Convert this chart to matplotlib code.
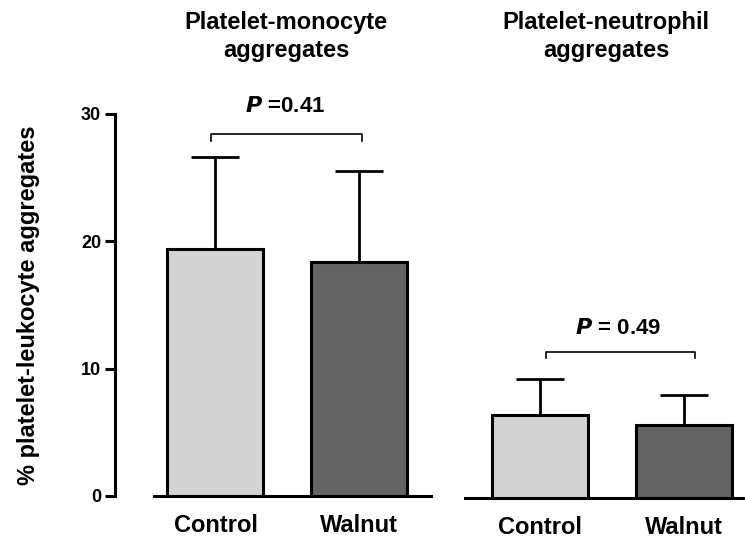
import matplotlib
matplotlib.use("Agg")
from matplotlib import pyplot as plt

plt.rcParams['font.family'] = ['Liberation Sans', 'DejaVu Sans']
plt.rcParams['font.weight'] = 'bold'

groups = ["Control", "Walnut"]
monocyte_mean = [19.4, 18.35]
monocyte_sd = [7.2, 7.15]
neutrophil_mean = [6.5, 5.7]
neutrophil_sd = [2.85, 2.35]
bar_colors = ["#d3d3d3", "#636363"]
titles = ["Platelet-monocyte\naggregates", "Platelet-neutrophil\naggregates"]
p_labels = [r"$\bfit{P}$ =0.41", r"$\bfit{P}$ = 0.49"]
y_ticks = [0, 10, 20, 30]

W, H = 745, 543
fig = plt.figure(figsize=(W / 100, H / 100), dpi=100)


def px_axes(x0, x1, y0, y1):
    # pixel box (top-left origin) -> figure fraction
    return fig.add_axes([x0 / W, 1 - y1 / H, (x1 - x0) / W, (y1 - y0) / H])


ax1 = px_axes(115, 431, 114, 496)
ax2 = px_axes(465, 745, 116, 498)

lw = 2.2
for ax, means, sds, xl, bracket, ptxt in [
    (ax1, monocyte_mean, monocyte_sd, (-0.698, 1.497), (-0.03, 1.02, 28.4, 30.6, 0.48), p_labels[0]),
    (ax2, neutrophil_mean, neutrophil_sd, (-0.521, 1.424), (0.04, 1.08, 11.5, 13.3, 0.54), p_labels[1]),
]:
    x = range(len(groups))
    ax.bar(x, means, width=0.667, color=bar_colors, edgecolor="black", linewidth=lw, zorder=2)
    ax.errorbar(x, means, yerr=[[0, 0], sds], fmt="none", ecolor="black",
                elinewidth=2.0, capsize=17, capthick=2.0, zorder=1)
    ax.set_xlim(*xl)
    ax.set_ylim(0, 30)
    ax.set_xticks(list(x))
    ax.set_xticklabels(groups, fontsize=17, fontweight="bold")
    ax.tick_params(axis="x", length=0, pad=13)
    for s in ["top", "right"]:
        ax.spines[s].set_visible(False)
    ax.spines["bottom"].set_linewidth(lw)
    ax.patch.set_alpha(0)
    # significance bracket
    bx0, bx1, by, ty, tx = bracket
    ax.plot([bx0, bx0, bx1, bx1], [by - 0.5, by, by, by - 0.5], color="black", lw=1.2, clip_on=False)
    ax.text(tx, ty, ptxt, ha="center", va="center", fontsize=16, fontweight="bold")

ax1.spines["left"].set_linewidth(lw)
ax1.spines["left"].set_bounds(0, 30)
ax1.spines["bottom"].set_bounds(-0.427, 1.497)
ax1.set_yticks(y_ticks)
ax1.set_yticklabels([str(t) for t in y_ticks], fontsize=13, fontweight="bold")
ax1.tick_params(axis="y", length=7, width=lw, pad=3)
ax1.set_ylabel("% platelet-leukocyte aggregates", fontsize=17, fontweight="bold")
ax1.yaxis.set_label_coords((40 - 115) / 316, 0.5)

ax2.spines["left"].set_visible(False)
ax2.set_yticks([])

for cx, title in zip([286, 606], titles):
    for i, line in enumerate(title.split("\n")):
        fig.text(cx / W, 1 - (29 + 28 * i) / H, line, ha="center", va="baseline",
                 fontsize=17, fontweight="bold")

plt.savefig("out.png", dpi=100)
